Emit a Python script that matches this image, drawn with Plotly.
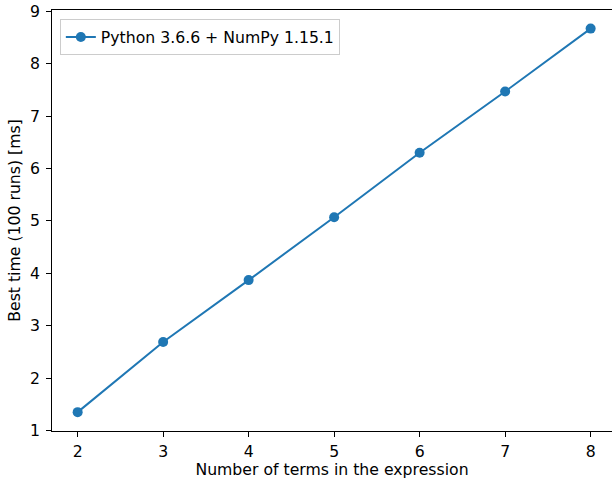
import plotly.graph_objects as go

terms = [2, 3, 4, 5, 6, 7, 8]
best_time_ms = [1.35, 2.69, 3.87, 5.07, 6.30, 7.47, 8.67]
series_name = "Python 3.6.6 + NumPy 1.15.1"
x_ticks = [2, 3, 4, 5, 6, 7, 8]
y_ticks = [1, 2, 3, 4, 5, 6, 7, 8, 9]

color = "#1f77b4"
font = "DejaVu Sans"
fs = 15.7

fig = go.Figure()
fig.add_trace(go.Scatter(
    x=terms, y=best_time_ms, mode="lines+markers", name=series_name,
    line=dict(color=color, width=2),
    marker=dict(color=color, size=10),
))

fig.update_layout(
    width=612, height=479,
    margin=dict(l=52, r=0, t=10, b=48, autoexpand=False),
    paper_bgcolor="white", plot_bgcolor="white",
    font=dict(family=font, size=fs, color="black"),
    showlegend=True,
    legend=dict(
        x=0.014, y=0.978, xanchor="left", yanchor="top",
        bgcolor="white", bordercolor="#cccccc", borderwidth=1,
        font=dict(family=font, size=fs, color="black"),
    ),
    xaxis=dict(
        range=[1.7, 8.25], tickvals=x_ticks, ticks="outside", ticklen=5,
        tickwidth=1, tickcolor="black", showline=True, linecolor="black",
        linewidth=1, mirror=True, showgrid=False, zeroline=False,
        automargin=False,
        title=dict(text="Number of terms in the expression", standoff=5,
                   font=dict(family=font, size=fs)),
        ticklabelstandoff=1,
    ),
    yaxis=dict(
        range=[0.99, 9.025], tickvals=y_ticks, ticks="outside", ticklen=5,
        tickwidth=1, tickcolor="black", showline=True, linecolor="black",
        linewidth=1, showgrid=False, zeroline=False, automargin=False,
        title=dict(text="Best time (100 runs) [ms]", standoff=5,
                   font=dict(family=font, size=fs)),
        ticklabelstandoff=3,
    ),
)

fig.write_html(
    "out.html",
    config={"displayModeBar": False},
    post_script="document.body.style.margin='0';document.body.style.overflow='hidden';",
)
